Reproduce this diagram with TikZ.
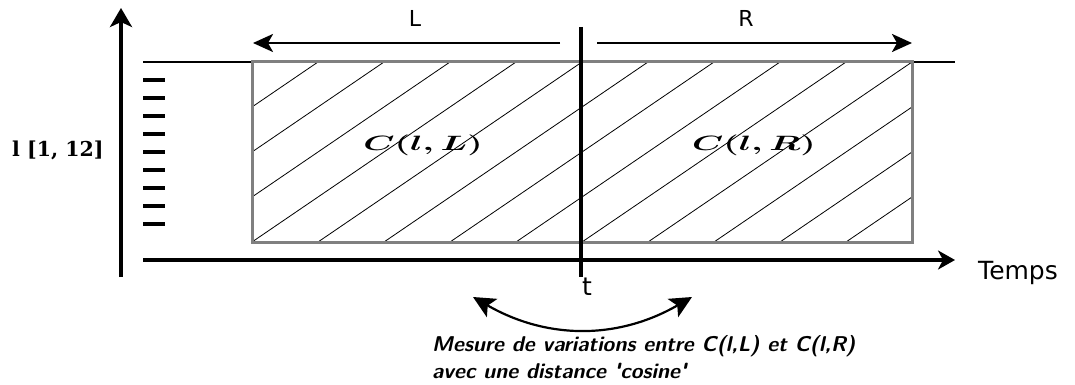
\documentclass[tikz,border=0pt]{standalone}
\usepackage{amsmath,amssymb}
\usepackage{fontspec}
\usepackage{xcolor}
\usetikzlibrary{arrows.meta}
\newfontfamily\dejavu{DejaVu Sans}
\newfontfamily\dejavuserif{DejaVu Serif}
\definecolor{boxgray}{RGB}{128,128,128}

\begin{document}
\begin{tikzpicture}[x=1pt,y=-1pt,
  axisline/.style={line width=4pt,-{Stealth[length=19pt,width=22pt,inset=5pt]}},
  spanarrow/.style={line width=2.5pt,-{Stealth[length=20pt,width=18pt,inset=5pt]}},
  swing/.style={line width=2.2pt,{Stealth[length=22pt,width=21pt,inset=5pt]}-{Stealth[length=22pt,width=21pt,inset=5pt]}},
  lab/.style={inner sep=0pt,font=\dejavu\fontsize{22}{26}\selectfont},
  note/.style={inner sep=0pt,anchor=base west,font=\sffamily\bfseries\itshape\fontsize{21.4}{26}\selectfont}]
\useasboundingbox (0,0) rectangle (1075,385);
% axes
\coordinate (ybot) at (121,277);
\coordinate (ytop) at (121,8);
\coordinate (xleft) at (143,260);
\coordinate (xright) at (955,260);
\draw[axisline] (ybot)--(ytop);
\draw[axisline,-{Stealth[length=17pt,width=19pt,inset=5pt]}] (xleft)--(xright);
\node[lab,anchor=base west,font=\dejavu\fontsize{25}{30}\selectfont] (temps) at (978,279) {Temps};
\node[inner sep=0pt,anchor=base west,font=\dejavuserif\bfseries\fontsize{20.5}{24}\selectfont] (lev) at (12,156) {l [1, 12]};
\foreach \i in {0,...,8}
  \draw[line width=3.2pt] (143,80+18*\i)--(165,80+18*\i);
% top line and hatched box
\draw[line width=1.5pt] (143,62)--(955,62);
\begin{scope}
\clip (252,62) rectangle (912,242);
\foreach \k in {-4,...,10}
  \draw[line width=0.8pt] (252+66*\k,242)--++(264,-180);
\end{scope}
\draw[boxgray,line width=3pt] (252,62) rectangle (912,242);
\node[inner sep=0pt] (cl) at (423,145) {\scalebox{1.7}[1]{\fontsize{20}{24}\selectfont$\boldsymbol{C(l,L)}$}};
\node[inner sep=0pt] (cr) at (754,145) {\scalebox{1.7}[1]{\fontsize{20}{24}\selectfont$\boldsymbol{C(l,R)}$}};
% split at t
\coordinate (ttop) at (581,27);
\coordinate (tbot) at (581,277);
\draw[line width=4pt] (ttop)--(tbot);
\node[lab,font=\dejavu\fontsize{25}{30}\selectfont] (tlab) at (587,287) {t};
\draw[spanarrow] (560,43)--(253,43);
\draw[spanarrow] (597,43)--(912,43);
\node[lab] (llab) at (415,18) {L};
\node[lab] (rlab) at (746,18) {R};
% cosine distance
\coordinate (swl) at (473,297);
\coordinate (swr) at (692,297);
\draw[swing] (swl) to[bend right=30] (swr);
\node[note] (msga) at (432,351) {Mesure de variations entre C(l,L) et C(l,R)};
\node[note] (msgb) at (432,378) {avec une distance \textquotesingle cosine\textquotesingle};
\end{tikzpicture}
\end{document}
